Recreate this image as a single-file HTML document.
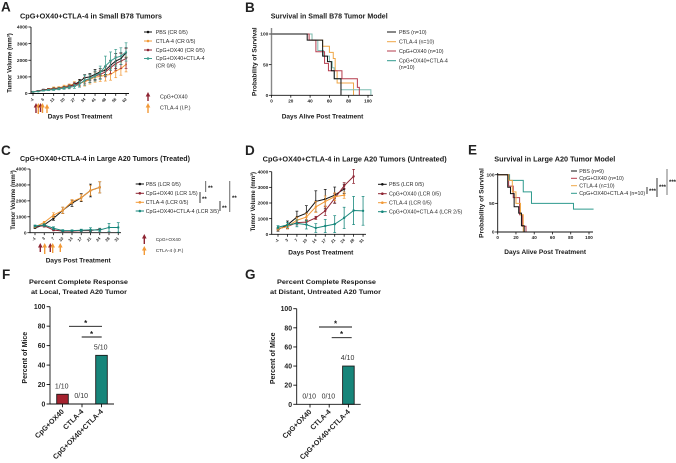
<!DOCTYPE html>
<html lang="en">
<head>
<meta charset="utf-8">
<title>Tumor response figure</title>
<style>
html,body{margin:0;padding:0;background:#fff;width:676px;height:463px;overflow:hidden}
svg{display:block;font-family:"Liberation Sans",sans-serif;filter:blur(0.25px)}
.t{font-weight:bold;fill:#1a1a1a}
.l{fill:#2a2a2a;font-size:5.3px}
.p{font-weight:bold;font-size:13.5px;fill:#222}
</style>
</head>
<body>
<svg id="fig" xmlns="http://www.w3.org/2000/svg" width="676" height="463" viewBox="0 0 676 463">
<g>
<text class="p" x="1" y="11.5">A</text>
<text class="p" x="245" y="12">B</text>
<text class="p" x="1" y="155">C</text>
<text class="p" x="245" y="155">D</text>
<text class="p" x="468" y="154.5">E</text>
<text class="p" x="2" y="279">F</text>
<text class="p" x="245" y="279">G</text>
</g>
<g>
<text class="t" font-size="7.7" x="20" y="18.4" textLength="142" lengthAdjust="spacingAndGlyphs">CpG+OX40+CTLA-4 in Small B78 Tumors</text>
<text class="t" font-size="7.1" x="270.7" y="18.5" textLength="117" lengthAdjust="spacingAndGlyphs">Survival in Small B78 Tumor Model</text>
<text class="t" font-size="7.4" x="20" y="161" textLength="170" lengthAdjust="spacingAndGlyphs">CpG+OX40+CTLA-4 in Large A20 Tumors (Treated)</text>
<text class="t" font-size="7.3" x="262.7" y="161.6" textLength="184" lengthAdjust="spacingAndGlyphs">CpG+OX40+CTLA-4 in Large A20 Tumors (Untreated)</text>
<text class="t" font-size="7.2" x="494.3" y="161.3" textLength="121" lengthAdjust="spacingAndGlyphs">Survival in Large A20 Tumor Model</text>
<text class="t" font-size="6.4" x="29" y="284" textLength="99" lengthAdjust="spacingAndGlyphs">Percent Complete Response</text>
<text class="t" font-size="6.4" x="31" y="294.2" textLength="96" lengthAdjust="spacingAndGlyphs">at Local, Treated A20 Tumor</text>
<text class="t" font-size="6.4" x="277" y="284.2" textLength="99" lengthAdjust="spacingAndGlyphs">Percent Complete Response</text>
<text class="t" font-size="6.4" x="270" y="294.2" textLength="111" lengthAdjust="spacingAndGlyphs">at Distant, Untreated A20 Tumor</text>
</g>
<g>
<text class="t" font-size="6.7" x="47.7" y="118.6" textLength="64.6" lengthAdjust="spacingAndGlyphs">Days Post Treatment</text>
<text class="t" font-size="6" text-anchor="middle" transform="translate(11.3 63) rotate(-90)">Tumor Volume (mm³)</text>
<text class="t" font-size="6.6" x="281.7" y="118.6" textLength="81.6" lengthAdjust="spacingAndGlyphs">Days Alive Post Treatment</text>
<text class="t" font-size="6.5" text-anchor="middle" transform="translate(256.3 61.7) rotate(-90)">Probability of Survival</text>
<text class="t" font-size="6.7" x="45.7" y="262.4" textLength="65" lengthAdjust="spacingAndGlyphs">Days Post Treatment</text>
<text class="t" font-size="6" text-anchor="middle" transform="translate(14.8 200) rotate(-90)">Tumor Volume (mm³)</text>
<text class="t" font-size="6.7" x="288.3" y="254.4" textLength="65" lengthAdjust="spacingAndGlyphs">Days Post Treatment</text>
<text class="t" font-size="6" text-anchor="middle" transform="translate(254.8 201.7) rotate(-90)">Tumor Volume (mm³)</text>
<text class="t" font-size="6.6" x="504.3" y="254.1" textLength="81.7" lengthAdjust="spacingAndGlyphs">Days Alive Post Treatment</text>
<text class="t" font-size="6.6" text-anchor="middle" transform="translate(483.3 203) rotate(-90)">Probability of Survival</text>
<text class="t" font-size="7" text-anchor="middle" transform="translate(26.8 357.7) rotate(-90)">Percent of Mice</text>
<text class="t" font-size="7" text-anchor="middle" transform="translate(274.8 358.3) rotate(-90)">Percent of Mice</text>
</g>
<g>
<text class="l" x="155.7" y="33.8">PBS (CR 0/5)</text>
<text class="l" x="155.7" y="42.8">CTLA-4 (CR 0/5)</text>
<text class="l" x="155.7" y="51.8">CpG+OX40 (CR 0/5)</text>
<text class="l" x="155.7" y="60.2">CpG+OX40+CTLA-4</text>
<text class="l" x="155.7" y="67.5">(CR 0/6)</text>
<text class="l" x="160" y="98.6">CpG+OX40</text>
<text class="l" x="160" y="109.5">CTLA-4 (I.P.)</text>
<text class="l" x="399" y="33.8">PBS (n=10)</text>
<text class="l" x="399" y="43.5">CTLA-4 (n=10)</text>
<text class="l" x="399" y="52.8">CpG+OX40 (n=10)</text>
<text class="l" x="399" y="62.5">CpG+OX40+CTLA-4</text>
<text class="l" x="399" y="69.2">(n=10)</text>
<text class="l" x="145.7" y="185.8">PBS (LCR 0/5)</text>
<text class="l" x="145.7" y="195.1">CpG+OX40 (LCR 1/5)</text>
<text class="l" x="145.7" y="204.1">CTLA-4 (LCR 0/5)</text>
<text class="l" x="145.7" y="212.8">CpG+OX40+CTLA-4 (LCR 3/5)</text>
<text class="l" x="155.7" y="241" style="font-size:4.8px">CpG+OX40</text>
<text class="l" x="155.7" y="251.8" style="font-size:4.8px">CTLA-4 (I.P.)</text>
<text class="l" x="389" y="186.1">PBS (LCR 0/5)</text>
<text class="l" x="389" y="195.5">CpG+OX40 (LCR 0/5)</text>
<text class="l" x="389" y="204.5">CTLA-4 (LCR 0/5)</text>
<text class="l" x="389" y="213.5">CpG+OX40+CTLA-4 (LCR 2/5)</text>
<text class="l" x="579.3" y="172.8">PBS (n=9)</text>
<text class="l" x="579.3" y="180.1">CpG+OX40 (n=10)</text>
<text class="l" x="579.3" y="187.5">CTLA-4 (n=10)</text>
<text class="l" x="579.3" y="195.1">CpG+OX40+CTLA-4 (n=10)</text>
</g>
<g class="t" font-size="6">
<text x="208" y="190">**</text>
<text x="202" y="201">**</text>
<text x="222" y="210">**</text>
<text x="232" y="200">**</text>
<text x="649" y="193">***</text>
<text x="659" y="189">***</text>
<text x="669" y="184">***</text>
<text x="85.7" y="326" text-anchor="middle" font-size="8">*</text>
<text x="91.5" y="337" text-anchor="middle" font-size="8">*</text>
<text x="335.5" y="326.5" text-anchor="middle" font-size="8">*</text>
<text x="341.5" y="337" text-anchor="middle" font-size="8">*</text>
</g>
</svg>
<script>
// ---------- data ----------
const catsA = ['-1','6','13','20','27','34','41','48','55','62'];
const pbsA = [100,150,220,250,280,300,350,430,540,720,950,1000,1150,1300,1400,1700,1950,2100,2450];
const pbsAErr = [20,30,40,40,50,60,70,80,100,130,180,200,300,200,250,300,450,350,300];
const ctlaA = [100,140,200,260,330,340,420,480,590,620,700,850,980,1030,1100,1150,1350,1500,1750];
const ctlaAErr = [20,30,40,50,60,70,80,90,120,180,250,280,300,300,350,350,400,400,450];
const cpgA = [100,150,200,240,260,300,340,420,520,600,780,900,1050,1150,1300,1550,1800,1950,2100];
const cpgAErr = [20,30,40,40,50,60,70,90,100,140,200,220,250,250,300,350,400,450,600];
const comboA = [100,130,180,210,230,280,320,370,430,560,800,900,1050,1250,1650,1950,2150,2250,2500];
const comboAErr = [20,30,30,40,50,60,70,90,120,180,300,250,300,400,600,550,500,500,550];

const catsC = ['-1','3','7','10','14','17','21','24','28','31'];
const pbsC = [300,500,900,1400,1850,2200,2650,2850];
const pbsCErr = [30,40,120,200,200,250,400,350];
const ctlaC = [350,650,1100,1400,1950,2200,2650,2850];
const ctlaCErr = [30,60,150,200,130,200,300,350];
const cpgC = [400,430,170,100,100,130,130,220];
const cpgCErr = [50,80,50,30,30,50,60,60];
const comboC = [420,480,280,130,130,150,180,170,330,330];
const comboCErr = [60,80,90,60,50,70,130,100,250,300];

const catsD = ['-1','3','7','10','14','17','21','24','28','31'];
const pbsD = [300,600,1100,1350,2100,2250,2500,2900];
const pbsDErr = [100,250,380,480,680,620,520,300];
const cpgD = [350,500,750,780,1050,1500,2300,3100,3700];
const cpgDErr = [60,120,150,150,100,300,300,200,450];
const ctlaD = [350,500,900,1100,1750,2100,2400,2500];
const ctlaDErr = [80,150,200,250,350,350,250,200];
const comboD = [450,600,700,620,400,530,650,1050,1520,1500];
const comboDErr = [100,150,220,280,280,420,540,680,900,920];

const volumeTicks = [0,1000,2000,3000,4000];
const survivalTicksY = [0,50,100];
const survivalTicksX = [0,20,40,60,80,100];

const pbsBT = [0,37,53,58,62,65,72];
const pbsBS = [100,90,64,55,40,27,0];
const ctlaBT = [0,42,53,60,64,66,68,85];
const ctlaBS = [100,90,80,70,60,40,20,0];
const cpgBT = [0,39,46,55,59,73,89,91];
const cpgBS = [100,90,71,52,40,27,13,0];
const comboBT = [0,42,48,54,60,63,65,72,103];
const comboBS = [100,90,73,64,55,45,27,9,0];

const pbsET = [0,11,14,18,23,26,29];
const pbsES = [100,78,67,44,33,11,0];
const cpgET = [0,12,17,24,27,31];
const cpgES = [100,80,60,30,10,0];
const ctlaET = [0,12,16,20,25,28];
const ctlaES = [100,90,70,50,30,0];
const comboET = [0,13,28,37,83,105];
const comboES = [100,90,70,50,40,40];

const barCats = ['CpG+OX40','CTLA-4','CpG+OX40+CTLA-4'];
const barValuesF = [10,0,50];
const barLabelsF = ['1/10','0/10','5/10'];
const barValuesG = [0,0,40];
const barLabelsG = ['0/10','0/10','4/10'];
const percentTicks = [0,20,40,60,80,100];

// ---------- drawing helpers ----------
const NS = 'http://www.w3.org/2000/svg';
const root = document.getElementById('fig');
const BLACK = '#111', ORANGE = '#f29a38', RED = '#8e2432', TEAL = '#17877c';

function shape(tag, name, attrs, parent) {
  const el = document.createElementNS(NS, tag);
  for (const k in attrs) el.setAttribute(k, attrs[k]);
  
  
  (parent || root).appendChild(el);
  return el;
}
function group(name) {
  return shape('g', name, {});
}
function seg(g, name, x1, y1, x2, y2, color, w) {
  return shape('line', name, {x1, y1, x2, y2, stroke: color, 'stroke-width': w}, g);
}
function label(g, name, str, x, y, size, attrs) {
  const el = shape('text', name, Object.assign({x, y, 'font-size': size}, attrs), g);
  el.textContent = str;
  return el;
}
function axes(g, ax, ay0, ayTop, axEnd, yColor, yW) {
  seg(g, 'y-axis-line', ax, ay0 + 0.4, ax, ayTop, yColor || BLACK, yW || 0.9);
  seg(g, 'x-axis-line', ax, ay0, axEnd, ay0, BLACK, 0.9);
}

// ---------- line chart ----------
function lineChart(name, cfg) {
  const g = group(name);
  const yOf = v => cfg.y0 + (cfg.yTop - cfg.y0) * v / 4000;
  const xOf = i => cfg.x0 + cfg.step * i;
  axes(g, cfg.ax, cfg.y0, cfg.yTop, cfg.axEnd);
  volumeTicks.forEach(v => {
    seg(g, 'y-tick', cfg.ax - 2.6, yOf(v), cfg.ax, yOf(v), BLACK, 0.8);
    label(g, 'y-tick-label', String(v), cfg.ax - 3.4, yOf(v) + 1.7, 4.8, {'text-anchor': 'end', 'font-weight': 'bold', fill: '#222'});
  });
  for (let i = 0; i < cfg.cats.length; i++) {
    const x = xOf(i * cfg.perCat);
    seg(g, 'x-tick', x, cfg.y0, x, cfg.y0 + 2.4, BLACK, 0.8);
    label(g, 'x-tick-label', cfg.cats[i], x + 1, cfg.y0 + 6, 4, {'text-anchor': 'end', 'font-weight': 'bold', fill: '#222', transform: 'rotate(-45 ' + (x + 1) + ' ' + (cfg.y0 + 6) + ')'});
  }
  cfg.series.forEach(s => {
    const sg = shape('g', s.name, {}, g);
    s.values.forEach((v, i) => {
      const x = xOf(i), e = s.errs[i];
      seg(sg, 'error-bar', x, yOf(v - e), x, yOf(v + e), s.color, 0.8);
      seg(sg, 'error-cap', x - 1.4, yOf(v + e), x + 1.4, yOf(v + e), s.color, 0.7);
      seg(sg, 'error-cap', x - 1.4, yOf(v - e), x + 1.4, yOf(v - e), s.color, 0.7);
    });
    const pts = s.values.map((v, i) => xOf(i).toFixed(2) + ',' + yOf(v).toFixed(2)).join(' ');
    shape('polyline', 'series-line', {points: pts, fill: 'none', stroke: s.color, 'stroke-width': 1}, sg);
    s.values.forEach((v, i) => {
      shape('circle', 'point', {cx: xOf(i), cy: yOf(v), r: cfg.r, fill: s.color}, sg);
    });
  });
}

// ---------- survival chart ----------
function survivalChart(name, cfg) {
  const g = group(name);
  const xOf = t => cfg.x0 + (cfg.x100 - cfg.x0) * t / 100;
  const yOf = s => cfg.y0 + (cfg.y100 - cfg.y0) * s / 100;
  cfg.series.forEach(s => {
    let d = 'M' + xOf(s.t[0]) + ' ' + yOf(s.s[0]);
    for (let i = 1; i < s.t.length; i++) {
      d += 'H' + xOf(s.t[i]).toFixed(2) + 'V' + yOf(s.s[i]).toFixed(2);
    }
    shape('path', s.name, {d, fill: 'none', stroke: s.color, 'stroke-width': 1}, g);
  });
  axes(g, cfg.x0, cfg.y0, cfg.yTop, cfg.axEnd, cfg.yColor, cfg.yW);
  survivalTicksY.forEach(v => {
    seg(g, 'y-tick', cfg.x0 - 2.6, yOf(v), cfg.x0, yOf(v), BLACK, 0.8);
    label(g, 'y-tick-label', String(v), cfg.x0 - 3.2, yOf(v) + 1.7, 4.8, {'text-anchor': 'end', 'font-weight': 'bold', fill: '#222'});
  });
  survivalTicksX.forEach(v => {
    seg(g, 'x-tick', xOf(v), cfg.y0, xOf(v), cfg.y0 + 2.4, BLACK, 0.8);
    label(g, 'x-tick-label', String(v), xOf(v), cfg.y0 + 7, 4.6, {'text-anchor': 'middle', 'font-weight': 'bold', fill: '#222'});
  });
}

// ---------- bar chart ----------
function barChart(name, cfg) {
  const g = group(name);
  const yOf = v => cfg.y0 + (cfg.y100 - cfg.y0) * v / 100;
  const xOf = i => cfg.first + cfg.step * i;
  cfg.values.forEach((v, i) => {
    const h = cfg.y0 - yOf(v);
    if (h > 0) {
      shape('rect', 'bar-' + barCats[i].toLowerCase().replace(/[^a-z0-9]+/g, '-'), {x: xOf(i) - 5.8, y: yOf(v), width: 11.6, height: h, fill: cfg.colors[i], stroke: '#1a1a1a', 'stroke-width': 0.9}, g);
    }
    label(g, 'bar-value-label', cfg.labels[i], xOf(i) - 0.8, yOf(v) - 6, 7, {'text-anchor': 'middle', fill: '#333'});
  });
  axes(g, cfg.ax, cfg.y0, cfg.y100, cfg.axEnd);
  percentTicks.forEach(v => {
    seg(g, 'y-tick', cfg.ax - 3.4, yOf(v), cfg.ax, yOf(v), BLACK, 0.9);
    label(g, 'y-tick-label', String(v), cfg.ax - 4.6, yOf(v) + 2.5, 6.9, {'text-anchor': 'end', 'font-weight': 'bold', fill: '#222'});
  });
  barCats.forEach((c, i) => {
    const x = xOf(i);
    seg(g, 'x-tick', x, cfg.y0, x, cfg.y0 + 3.2, BLACK, 0.9);
    const lx = x + 2, ly = cfg.y0 + 8;
    label(g, 'x-tick-label', c, lx, ly, 7.2, {'text-anchor': 'end', 'font-weight': 'bold', fill: '#222', transform: 'rotate(-45 ' + lx + ' ' + ly + ')'});
  });
  cfg.brackets.forEach(b => seg(g, 'significance-bracket', b[0], b[2], b[1], b[2], BLACK, 0.9));
}

// ---------- arrows and legend keys ----------
function arrow(name, x, y0, y1, color) {
  const d = 'M' + x + ' ' + y0 + 'L' + (x + 2.3) + ' ' + (y0 + 4.5) + 'L' + (x + 0.7) + ' ' + (y0 + 4.5) + 'V' + y1 + 'H' + (x - 0.7) + 'V' + (y0 + 4.5) + 'H' + (x - 2.3) + 'Z';
  shape('path', name, {d, fill: color}, root);
}
function legendKey(name, x1, x2, y, color, marker) {
  const g = group(name);
  seg(g, 'legend-line', x1, y, x2, y, color, 1);
  if (marker) shape('circle', 'legend-marker', {cx: (x1 + x2) / 2, cy: y, r: 1.3, fill: color}, g);
}
function vbar(name, x, y1, y2, color, w) {
  seg(root, name, x, y1, x, y2, color, w);
}

// ---------- charts ----------
lineChart('chart-a-small-b78', {
  ax: 31, axEnd: 129, x0: 33, step: 5.17, perCat: 2, y0: 93.5, yTop: 27, r: 1, cats: catsA,
  series: [
    {name: 'series-ctla4', color: ORANGE, values: ctlaA, errs: ctlaAErr},
    {name: 'series-pbs', color: BLACK, values: pbsA, errs: pbsAErr},
    {name: 'series-cpg-ox40', color: '#9c2b38', values: cpgA, errs: cpgAErr},
    {name: 'series-combo', color: '#3f9e8f', values: comboA, errs: comboAErr}
  ]
});
lineChart('chart-c-large-a20-treated', {
  ax: 30, axEnd: 121, x0: 35, step: 9.25, perCat: 1, y0: 232.7, yTop: 169, r: 1.2, cats: catsC,
  series: [
    {name: 'series-pbs', color: BLACK, values: pbsC, errs: pbsCErr},
    {name: 'series-ctla4', color: ORANGE, values: ctlaC, errs: ctlaCErr},
    {name: 'series-cpg-ox40', color: RED, values: cpgC, errs: cpgCErr},
    {name: 'series-combo', color: TEAL, values: comboC, errs: comboCErr}
  ]
});
lineChart('chart-d-large-a20-untreated', {
  ax: 271.7, axEnd: 366, x0: 278, step: 9.45, perCat: 1, y0: 234.3, yTop: 171.7, r: 1.2, cats: catsD,
  series: [
    {name: 'series-pbs', color: BLACK, values: pbsD, errs: pbsDErr},
    {name: 'series-cpg-ox40', color: RED, values: cpgD, errs: cpgDErr},
    {name: 'series-ctla4', color: ORANGE, values: ctlaD, errs: ctlaDErr},
    {name: 'series-combo', color: TEAL, values: comboD, errs: comboDErr}
  ]
});
survivalChart('chart-b-survival-b78', {
  x0: 271.5, x100: 368, y0: 95.3, y100: 34, yTop: 28, axEnd: 373, yColor: '#888', yW: 1.4,
  series: [
    {name: 'curve-ctla4', color: '#efa646', t: ctlaBT, s: ctlaBS},
    {name: 'curve-combo', color: '#7fbdb3', t: comboBT, s: comboBS},
    {name: 'curve-cpg-ox40', color: '#b53c4d', t: cpgBT, s: cpgBS},
    {name: 'curve-pbs', color: BLACK, t: pbsBT, s: pbsBS}
  ]
});
survivalChart('chart-e-survival-a20', {
  x0: 497.7, x100: 589, y0: 232, y100: 174.7, yTop: 173, axEnd: 593,
  series: [
    {name: 'curve-combo', color: '#2f9a8e', t: comboET, s: comboES},
    {name: 'curve-cpg-ox40', color: '#b53c4d', t: cpgET, s: cpgES},
    {name: 'curve-ctla4', color: '#efa646', t: ctlaET, s: ctlaES},
    {name: 'curve-pbs', color: BLACK, t: pbsET, s: pbsES}
  ]
});
barChart('chart-f-local-response', {
  ax: 50, axEnd: 114, first: 62.5, step: 19.5, y0: 404, y100: 306.7,
  values: barValuesF, labels: barLabelsF, colors: ['#a5222f', '#a5222f', '#17857a'],
  brackets: [[69, 102, 326.3], [81.7, 101.7, 337]]
});
barChart('chart-g-distant-response', {
  ax: 296.7, axEnd: 360.7, first: 310, step: 19.2, y0: 404.3, y100: 308.7,
  values: barValuesG, labels: barLabelsG, colors: ['#a5222f', '#a5222f', '#17857a'],
  brackets: [[319, 352, 327], [331.7, 351.7, 337.7]]
});

// ---------- legends ----------
legendKey('legend-key-a-pbs', 144, 152, 32, BLACK, true);
legendKey('legend-key-a-ctla4', 144, 152, 41, ORANGE, true);
legendKey('legend-key-a-cpg', 144, 152, 50, RED, true);
legendKey('legend-key-a-combo', 144, 152, 58.5, '#3f9e8f', true);
legendKey('legend-key-b-pbs', 387, 396, 32, BLACK, false);
legendKey('legend-key-b-ctla4', 387, 396, 41.7, '#efa646', false);
legendKey('legend-key-b-cpg', 387, 396, 51, '#b53c4d', false);
legendKey('legend-key-b-combo', 387, 396, 60.7, '#2f9a8e', false);
legendKey('legend-key-c-pbs', 135.7, 144, 184, BLACK, true);
legendKey('legend-key-c-cpg', 135.7, 144, 193.3, RED, true);
legendKey('legend-key-c-ctla4', 135.7, 144, 202.3, ORANGE, true);
legendKey('legend-key-c-combo', 135.7, 144, 211, TEAL, true);
legendKey('legend-key-d-pbs', 378, 386.7, 184.3, BLACK, true);
legendKey('legend-key-d-cpg', 378, 386.7, 193.7, RED, true);
legendKey('legend-key-d-ctla4', 378, 386.7, 202.7, ORANGE, true);
legendKey('legend-key-d-combo', 378, 386.7, 211.7, TEAL, true);
legendKey('legend-key-e-pbs', 571, 577, 171, BLACK, false);
legendKey('legend-key-e-cpg', 571, 577, 178.3, '#b53c4d', false);
legendKey('legend-key-e-ctla4', 571, 577, 185.7, '#efa646', false);
legendKey('legend-key-e-combo', 571, 577, 193.3, '#2f9a8e', false);

// ---------- treatment arrows ----------
arrow('arrow-a-cpg-1', 36, 103, 113, RED);
arrow('arrow-a-ctla4-1', 38.3, 103, 114, ORANGE);
arrow('arrow-a-cpg-2', 40.5, 103, 112, RED);
arrow('arrow-a-ctla4-2', 42.5, 103, 113, ORANGE);
arrow('arrow-a-ctla4-3', 47, 104, 113, ORANGE);
arrow('arrow-a-legend-cpg', 148, 92, 101, RED);
arrow('arrow-a-legend-ctla4', 148, 103, 113, ORANGE);
arrow('arrow-c-cpg-1', 40.3, 243, 252, RED);
arrow('arrow-c-ctla4-1', 44.7, 243, 254, ORANGE);
arrow('arrow-c-cpg-2', 50.3, 243, 252, RED);
arrow('arrow-c-ctla4-2', 52.7, 243, 253, ORANGE);
arrow('arrow-c-ctla4-3', 60.3, 243, 252, ORANGE);
arrow('arrow-c-legend-cpg', 144.3, 234, 244, RED);
arrow('arrow-c-legend-ctla4', 144.3, 246, 255, ORANGE);

// ---------- significance bars ----------
vbar('sig-bar-c-1', 205.7, 181, 192, '#555', 0.9);
vbar('sig-bar-c-2', 200, 192, 203, '#222', 0.9);
vbar('sig-bar-c-3', 220, 201, 211, '#222', 0.9);
vbar('sig-bar-c-4', 229.7, 181, 212, '#777', 1.1);
vbar('sig-bar-e-1', 647, 187, 194, '#222', 0.9);
vbar('sig-bar-e-2', 657, 178, 197, '#222', 0.9);
vbar('sig-bar-e-3', 667, 169, 195, '#777', 1);
</script>
</body>
</html>
